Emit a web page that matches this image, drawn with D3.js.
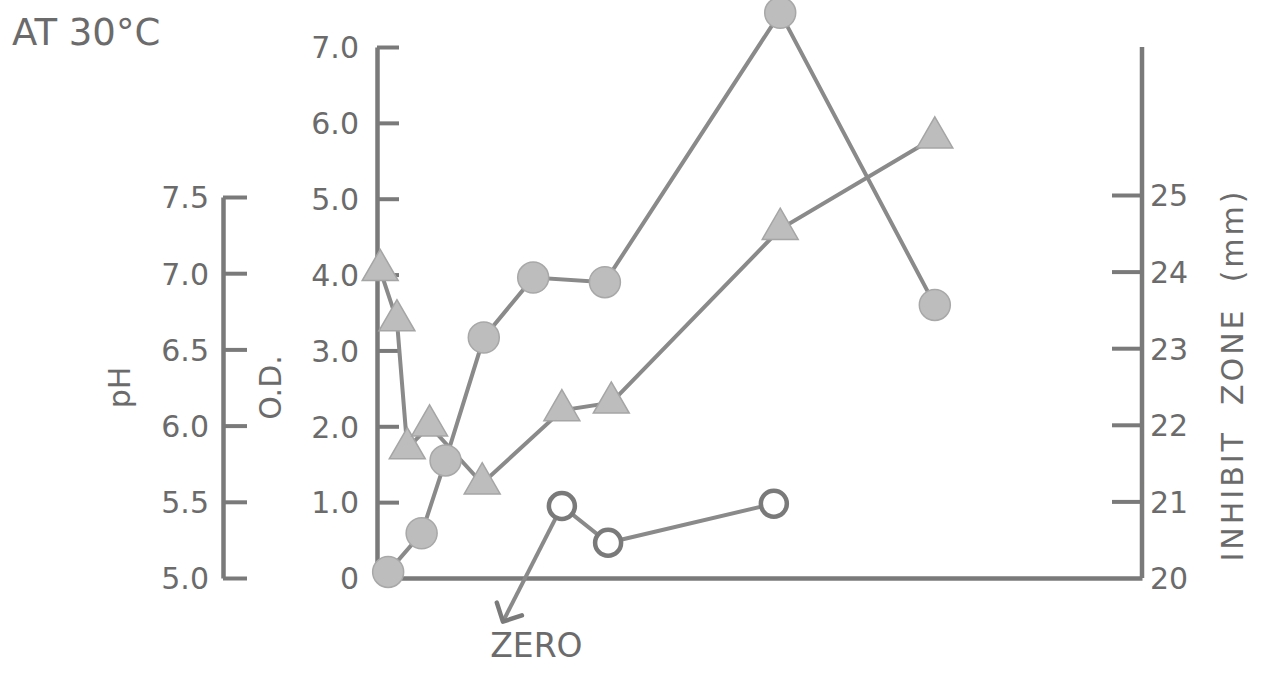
<!DOCTYPE html>
<html>
<head>
<meta charset="utf-8">
<script src="https://cdn.jsdelivr.net/npm/d3@7"></script>
<style>
  html, body { margin: 0; padding: 0; background: #fff; }
  svg text { font-family: "DejaVu Sans", sans-serif; fill: #6b6b6b; }
</style>
</head>
<body>
<div id="chart"></div>
<script>
// time (arbitrary units)
const odTime = [0.7, 2.8, 4.3, 6.7, 9.8, 14.3, 25.3, 35.0];
const odValues = [0.08, 0.59, 1.55, 3.17, 3.96, 3.90, 7.45, 3.60];

const phTime = [0.2, 1.25, 1.9, 3.3, 6.6, 11.6, 14.7, 25.3, 35.0];
const phValues = [7.02, 6.69, 5.85, 6.0, 5.62, 6.10, 6.15, 7.29, 7.89];

const zoneTime = [11.6, 14.5, 24.9];
const zoneValues = [20.94, 20.46, 20.97];

// arrow from first zone point to "ZERO"
const zeroArrow = { time: 7.9, zone: 19.43 };

const odTicks = [0, 1, 2, 3, 4, 5, 6, 7];
const phTicks = [5.0, 5.5, 6.0, 6.5, 7.0, 7.5];
const zoneTicks = [20, 21, 22, 23, 24, 25];

const width = 1263, height = 673;
const ink = '#7a7a7a';
const markFill = '#bdbdbd';

const svg = d3.select('#chart')
  .append('svg')
  .attr('width', width)
  .attr('height', height);

const x = d3.scaleLinear().domain([0, 48]).range([377, 1142]);
const yOD = d3.scaleLinear().domain([0, 7]).range([578, 47]);
const yPH = d3.scaleLinear().domain([5, 7.5]).range([578, 197]);
const yZone = d3.scaleLinear().domain([20, 25]).range([578, 195]);

function styleAxis(g) {
  g.selectAll('path.domain').attr('stroke', ink).attr('stroke-width', 4.5);
  g.selectAll('.tick line').attr('stroke', ink).attr('stroke-width', 4);
  g.selectAll('.tick text')
    .attr('font-size', 30)
    .attr('fill', '#6b6b6b')
    .attr('font-family', '"DejaVu Sans", sans-serif');
}

// x axis: plain baseline
svg.append('g')
  .attr('transform', `translate(0,${yOD(0)})`)
  .call(d3.axisBottom(x).tickValues([]).tickSizeOuter(0))
  .call(styleAxis);

// O.D. axis
svg.append('g')
  .attr('transform', `translate(${x(0)},0)`)
  .call(d3.axisLeft(yOD).tickValues(odTicks).tickSizeInner(-22).tickSizeOuter(0)
    .tickPadding(18).tickFormat(d => d === 0 ? '0' : d.toFixed(1)))
  .call(styleAxis)
  .call(g => g.selectAll('.tick text').attr('dy', '0.36em'));

// pH axis
svg.append('g')
  .attr('transform', 'translate(223,0)')
  .call(d3.axisLeft(yPH).tickValues(phTicks).tickSizeInner(-24).tickSizeOuter(0)
    .tickPadding(14).tickFormat(d => d.toFixed(1)))
  .call(styleAxis)
  .call(g => g.selectAll('.tick text').attr('dy', '0.36em'));

// inhibit zone axis (right)
svg.append('g')
  .attr('transform', `translate(${x(48)},0)`)
  .call(d3.axisRight(yZone).tickValues(zoneTicks).tickSizeInner(-30).tickSizeOuter(0)
    .tickPadding(8).tickFormat(d3.format('d')))
  .call(styleAxis)
  .call(g => g.select('path.domain').remove())
  .call(g => g.selectAll('.tick').filter(d => d === 20).select('line').remove())
  .call(g => g.selectAll('.tick text').attr('dy', '0.36em'));

svg.append('line')
  .attr('x1', x(48)).attr('x2', x(48))
  .attr('y1', yOD(7)).attr('y2', yOD(0))
  .attr('stroke', ink).attr('stroke-width', 4.5);

// axis titles
svg.append('text')
  .attr('transform', `translate(130,${yPH(6.25)}) rotate(-90)`)
  .attr('text-anchor', 'middle')
  .attr('font-size', 30)
  .text('pH');

svg.append('text')
  .attr('transform', `translate(281,${yPH(6.25)}) rotate(-90)`)
  .attr('text-anchor', 'middle')
  .attr('font-size', 30)
  .text('O.D.');

svg.append('text')
  .attr('transform', `translate(1243,${yZone(22.65)}) rotate(-90)`)
  .attr('text-anchor', 'middle')
  .attr('font-size', 30)
  .attr('letter-spacing', 3)
  .style('white-space', 'pre')
  .text('INHIBIT  ZONE  (mm)');

svg.append('text')
  .attr('x', 12).attr('y', 45)
  .attr('font-size', 37)
  .text('AT 30°C');

// series lines
const lineOf = (yScale) => d3.line().x(d => x(d[0])).y(d => yScale(d[1]));

const odData = d3.zip(odTime, odValues);
const phData = d3.zip(phTime, phValues);
const zoneData = d3.zip(zoneTime, zoneValues);

svg.append('path')
  .datum(phData)
  .attr('d', lineOf(yPH))
  .attr('fill', 'none').attr('stroke', '#8a8a8a').attr('stroke-width', 4);

svg.append('path')
  .datum(odData)
  .attr('d', lineOf(yOD))
  .attr('fill', 'none').attr('stroke', '#8a8a8a').attr('stroke-width', 4);

svg.append('path')
  .datum(zoneData)
  .attr('d', lineOf(yZone))
  .attr('fill', 'none').attr('stroke', '#8a8a8a').attr('stroke-width', 4);

// arrow to ZERO
const a0 = [x(zoneTime[0]), yZone(zoneValues[0])];
const a1 = [x(zeroArrow.time), yZone(zeroArrow.zone)];
const ang = Math.atan2(a1[1] - a0[1], a1[0] - a0[0]);
svg.append('line')
  .attr('x1', a0[0]).attr('y1', a0[1])
  .attr('x2', a1[0]).attr('y2', a1[1])
  .attr('stroke', '#8a8a8a').attr('stroke-width', 4);
const head = 20, spread = 0.78;
svg.append('path')
  .attr('d', d3.line()([
    [a1[0] - head * Math.cos(ang - spread), a1[1] - head * Math.sin(ang - spread)],
    a1,
    [a1[0] - head * Math.cos(ang + spread), a1[1] - head * Math.sin(ang + spread)]
  ]))
  .attr('fill', 'none').attr('stroke', '#7a7a7a').attr('stroke-width', 4.5)
  .attr('stroke-linecap', 'round').attr('stroke-linejoin', 'round');

svg.append('text')
  .attr('x', x(10.0)).attr('y', yOD(0) + 79)
  .attr('text-anchor', 'middle')
  .attr('font-size', 33)
  .text('ZERO');

// markers
svg.append('g')
  .selectAll('path')
  .data(phData)
  .join('path')
  .attr('transform', d => `translate(${x(d[0])},${yPH(d[1])})`)
  .attr('d', d3.symbol(d3.symbolTriangle, 560))
  .attr('fill', markFill).attr('stroke', '#a5a5a5').attr('stroke-width', 1.5);

svg.append('g')
  .selectAll('circle')
  .data(odData)
  .join('circle')
  .attr('cx', d => x(d[0]))
  .attr('cy', d => yOD(d[1]))
  .attr('r', 15.5)
  .attr('fill', markFill).attr('stroke', '#a8a8a8').attr('stroke-width', 1.5);

svg.append('g')
  .selectAll('circle')
  .data(zoneData)
  .join('circle')
  .attr('cx', d => x(d[0]))
  .attr('cy', d => yZone(d[1]))
  .attr('r', 13)
  .attr('fill', '#fff').attr('stroke', '#7a7a7a').attr('stroke-width', 4.5);
</script>
</body>
</html>
